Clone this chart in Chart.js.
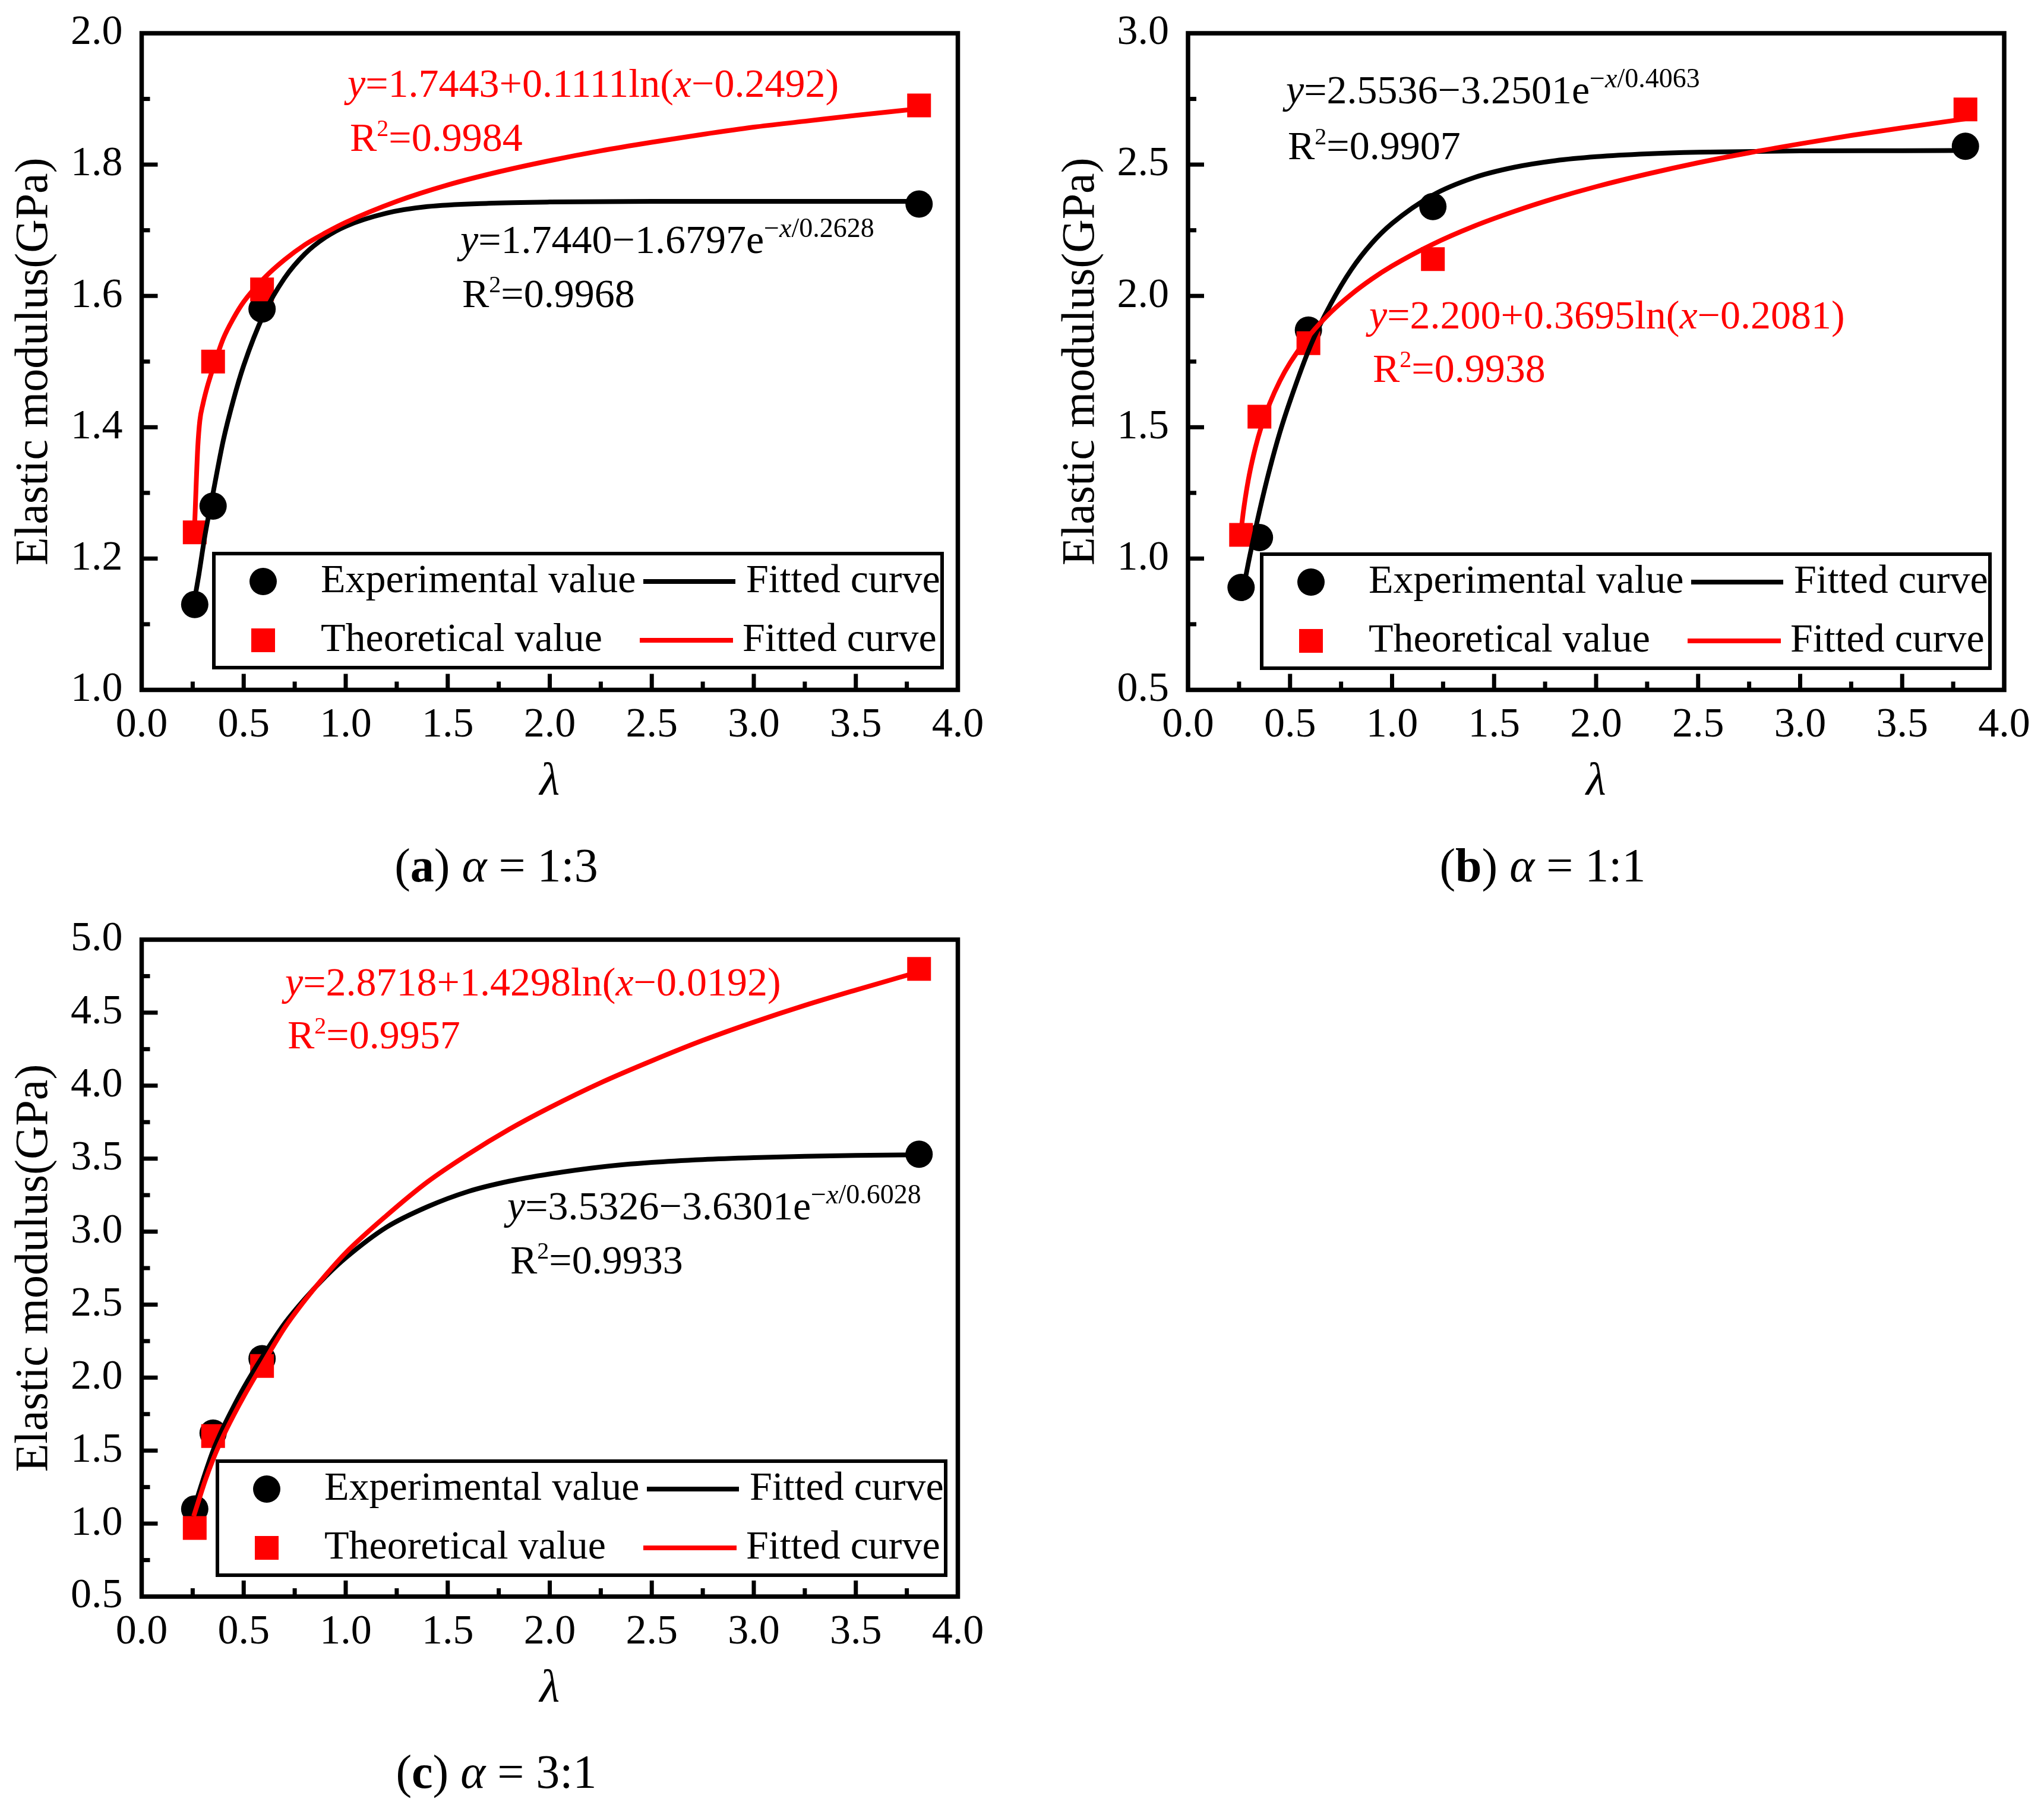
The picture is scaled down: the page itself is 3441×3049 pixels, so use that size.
<!DOCTYPE html>
<html>
<head>
<meta charset="utf-8">
<title>Elastic modulus vs lambda</title>
<script src="https://cdn.jsdelivr.net/npm/chart.js@4.4.1/dist/chart.umd.min.js"></script>
<style>
  html, body { margin: 0; padding: 0; background: #fff; }
  body { width: 3441px; height: 3049px; position: relative; overflow: hidden; }
  canvas { position: absolute; }
</style>
</head>
<body>
<canvas id="chartA" width="1720" height="1560" style="left:0px;top:0px"></canvas>
<canvas id="chartB" width="1679" height="1560" style="left:1762px;top:0px"></canvas>
<canvas id="chartC" width="1720" height="1523" style="left:0px;top:1526px"></canvas>
<script>
// measured points (lambda on x)
const lambdaA = [0.26, 0.35, 0.59, 3.81];
const expA = [1.13, 1.28, 1.58, 1.74];
const theoA = [1.24, 1.50, 1.61, 1.89];

const lambdaB = [0.26, 0.35, 0.59, 1.20, 3.81];
const expB = [0.89, 1.08, 1.87, 2.34, 2.57];
const theoB = [1.09, 1.54, 1.82, 2.14, 2.71];

const lambdaC = [0.26, 0.35, 0.59, 3.81];
const expC = [1.10, 1.62, 2.13, 3.53];
const theoC = [0.97, 1.60, 2.08, 4.80];

// fitted curves
const fitExpAx = [0.255, 0.28, 0.31, 0.35, 0.40, 0.45, 0.50, 0.60, 0.70, 0.80, 0.90, 1.00, 1.20, 1.40, 1.70, 2.00, 2.50, 3.00, 3.81];
const fitExpAy = [1.13, 1.175, 1.235, 1.30, 1.38, 1.442, 1.494, 1.573, 1.627, 1.664, 1.689, 1.706, 1.726, 1.736, 1.741, 1.743, 1.744, 1.744, 1.744];
const fitTheoAx = [0.258, 0.262, 0.268, 0.275, 0.285, 0.30, 0.32, 0.35, 0.40, 0.45, 0.50, 0.60, 0.70, 0.80, 0.90, 1.00, 1.25, 1.50, 1.75, 2.00, 2.25, 2.50, 2.75, 3.00, 3.25, 3.50, 3.81];
const fitTheoAy = [1.24, 1.27, 1.32, 1.37, 1.41, 1.435, 1.46, 1.49, 1.535, 1.566, 1.591, 1.627, 1.655, 1.678, 1.696, 1.712, 1.744, 1.769, 1.789, 1.806, 1.821, 1.834, 1.846, 1.857, 1.866, 1.875, 1.885];

const fitExpBx = [0.26, 0.28, 0.30, 0.35, 0.40, 0.45, 0.50, 0.60, 0.70, 0.80, 0.90, 1.00, 1.20, 1.40, 1.60, 1.80, 2.00, 2.25, 2.50, 3.00, 3.50, 3.81];
const fitExpBy = [0.84, 0.92, 1.00, 1.18, 1.34, 1.48, 1.60, 1.81, 1.97, 2.10, 2.20, 2.276, 2.384, 2.450, 2.490, 2.515, 2.530, 2.541, 2.547, 2.552, 2.553, 2.554];
const fitTheoBx = [0.26, 0.27, 0.28, 0.30, 0.33, 0.36, 0.40, 0.45, 0.50, 0.60, 0.70, 0.80, 0.90, 1.00, 1.20, 1.40, 1.60, 1.80, 2.00, 2.25, 2.50, 2.75, 3.00, 3.25, 3.50, 3.81];
const fitTheoBy = [1.107, 1.172, 1.227, 1.318, 1.422, 1.504, 1.590, 1.676, 1.745, 1.854, 1.938, 2.006, 2.064, 2.114, 2.197, 2.265, 2.322, 2.372, 2.416, 2.464, 2.507, 2.545, 2.579, 2.611, 2.640, 2.674];

const fitExpCx = [0.255, 0.28, 0.31, 0.35, 0.40, 0.45, 0.50, 0.60, 0.70, 0.80, 0.90, 1.00, 1.20, 1.40, 1.60, 1.80, 2.00, 2.25, 2.50, 2.75, 3.00, 3.25, 3.50, 3.81];
const fitExpCy = [1.10, 1.21, 1.34, 1.50, 1.66, 1.80, 1.93, 2.16, 2.37, 2.54, 2.69, 2.82, 3.03, 3.17, 3.275, 3.345, 3.395, 3.443, 3.474, 3.494, 3.507, 3.516, 3.522, 3.526];
const fitTheoCx = [0.255, 0.28, 0.31, 0.35, 0.40, 0.45, 0.50, 0.60, 0.70, 0.80, 0.90, 1.00, 1.20, 1.40, 1.60, 1.80, 2.00, 2.25, 2.50, 2.75, 3.00, 3.25, 3.50, 3.81];
const fitTheoCy = [1.05, 1.16, 1.29, 1.44, 1.60, 1.74, 1.87, 2.11, 2.34, 2.53, 2.70, 2.855, 3.11, 3.34, 3.53, 3.70, 3.85, 4.02, 4.17, 4.31, 4.435, 4.55, 4.655, 4.78];

const serif = '"Liberation Serif", "Times New Roman", serif';
const RED = '#ff0000';
const BLACK = '#000000';
const CURVE_W = 8;

Chart.defaults.font.family = serif;
Chart.defaults.color = BLACK;

const pts = (xs, ys) => xs.map((x, i) => ({ x, y: ys[i] }));

// text made of pieces: italic / bold / superscript
function richWidth(ctx, parts, size) {
  let w = 0;
  parts.forEach(p => {
    ctx.font = `${p.b ? 'bold ' : ''}${p.i ? 'italic ' : ''}${p.sup || size}px ${serif}`;
    w += ctx.measureText(p.t).width;
  });
  return w;
}

function drawRich(ctx, x, y, parts, size, color) {
  ctx.save();
  ctx.fillStyle = color;
  ctx.textAlign = 'left';
  ctx.textBaseline = 'alphabetic';
  let cx = x;
  parts.forEach(p => {
    ctx.font = `${p.b ? 'bold ' : ''}${p.i ? 'italic ' : ''}${p.sup || size}px ${serif}`;
    ctx.fillText(p.t, cx, y - (p.rise || 0));
    cx += ctx.measureText(p.t).width;
  });
  ctx.restore();
}

const lnEq = (a, b, c) => [{ t: 'y', i: true }, { t: `=${a}+${b}ln(` }, { t: 'x', i: true }, { t: `\u2212${c})` }];
const expEq = (a, b, c) => [{ t: 'y', i: true }, { t: `=${a}\u2212${b}e` },
  { t: '\u2212', sup: 46, rise: 27 }, { t: 'x', i: true, sup: 46, rise: 27 }, { t: `/${c}`, sup: 46, rise: 27 }];
const r2 = v => [{ t: 'R' }, { t: '2', sup: 40, rise: 25 }, { t: `=${v}` }];
const caption = (letter, ratio) => [{ t: '(' }, { t: letter, b: true }, { t: ') ' }, { t: '\u03b1', i: true }, { t: ` = ${ratio}` }];

// frame with inward ticks, legend box, equations and caption
const decorPlugin = {
  id: 'decor',
  afterDatasetsDraw(chart, args, opts) {
    const { ctx, chartArea: a, scales: { x, y } } = chart;
    ctx.save();
    ctx.strokeStyle = BLACK;
    ctx.lineCap = 'butt';
    ctx.lineWidth = 7;
    const xn = Math.round((x.max - x.min) / 0.25);
    for (let i = 1; i < xn; i++) {
      const px = x.getPixelForValue(x.min + i * 0.25);
      ctx.beginPath();
      ctx.moveTo(px, a.bottom);
      ctx.lineTo(px, a.bottom - (i % 2 === 0 ? 27 : 14));
      ctx.stroke();
    }
    const ystep = opts.yMinor;
    const yn = Math.round((y.max - y.min) / ystep);
    for (let i = 1; i < yn; i++) {
      const py = y.getPixelForValue(y.min + i * ystep);
      ctx.beginPath();
      ctx.moveTo(a.left, py);
      ctx.lineTo(a.left + (i % 2 === 0 ? 27 : 14), py);
      ctx.stroke();
    }
    ctx.lineWidth = 7.5;
    ctx.strokeRect(a.left, a.top, a.right - a.left, a.bottom - a.top);

    // legend
    const lg = opts.legend;
    const bx = a.left + lg.dx, by = a.top + lg.dy;
    ctx.lineWidth = 6;
    ctx.strokeRect(bx, by, 1226, 192);
    const ds = chart.data.datasets;
    const rows = [
      { mark: ds[0], line: ds[2], y: by + 47, lx0: 723, lx1: 878, tx: 896 },
      { mark: ds[1], line: ds[3], y: by + 146, lx0: 717, lx1: 874, tx: 890 }
    ];
    rows.forEach(r => {
      ctx.fillStyle = r.mark.backgroundColor;
      Chart.helpers.drawPoint(ctx, { pointStyle: r.mark.pointStyle, radius: r.mark.pointRadius, rotation: 0, borderWidth: 0 }, bx + 83, r.y);
      ctx.fillStyle = BLACK;
      ctx.font = `68px ${serif}`;
      ctx.textBaseline = 'middle';
      ctx.textAlign = 'left';
      ctx.fillText(r.mark.label, bx + 180, r.y);
      ctx.fillText(r.line.label, bx + r.tx, r.y);
      ctx.strokeStyle = r.line.borderColor;
      ctx.lineWidth = CURVE_W;
      ctx.beginPath();
      ctx.moveTo(bx + r.lx0, r.y);
      ctx.lineTo(bx + r.lx1, r.y);
      ctx.stroke();
    });

    // equations
    opts.notes.forEach(n => drawRich(ctx, a.left + n.dx, a.top + n.dy, n.parts, 68, n.color));

    // caption under the panel
    const cw = richWidth(ctx, opts.caption, 80);
    const cx = (a.left + a.right) / 2 - 90 - cw / 2;
    drawRich(ctx, cx, a.bottom + 322, opts.caption, 80, BLACK);
    ctx.restore();
  }
};

function makeChart(id, p) {
  return new Chart(document.getElementById(id), {
    type: 'scatter',
    data: {
      datasets: [
        { label: 'Experimental value', data: pts(p.lambda, p.exp), pointStyle: 'circle', pointRadius: 23,
          backgroundColor: BLACK, borderWidth: 0, pointBorderWidth: 0, order: 4 },
        { label: 'Theoretical value', data: pts(p.lambda, p.theo), pointStyle: 'rect', pointRadius: 28.3,
          backgroundColor: RED, borderWidth: 0, pointBorderWidth: 0, order: 3 },
        { label: 'Fitted curve', data: pts(p.fitEx, p.fitEy), showLine: true, pointRadius: 0, borderColor: BLACK,
          backgroundColor: BLACK, borderWidth: CURVE_W, cubicInterpolationMode: 'monotone', order: 2 },
        { label: 'Fitted curve', data: pts(p.fitTx, p.fitTy), showLine: true, pointRadius: 0, borderColor: RED,
          backgroundColor: RED, borderWidth: CURVE_W, cubicInterpolationMode: 'monotone', order: 1 }
      ]
    },
    options: {
      responsive: false,
      devicePixelRatio: 1,
      animation: false,
      events: [],
      layout: { autoPadding: false, padding: p.pad },
      plugins: {
        legend: { display: false },
        tooltip: { enabled: false },
        decor: { yMinor: p.yStep / 2, legend: p.legend, notes: p.notes, caption: p.caption }
      },
      scales: {
        x: {
          type: 'linear', min: 0, max: 4,
          grid: { display: false, drawTicks: false },
          border: { display: false },
          ticks: { stepSize: 0.5, autoSkip: false, maxRotation: 0, padding: 18.5,
            font: { family: serif, size: 70, lineHeight: 1.2 }, color: BLACK, callback: v => Number(v).toFixed(1) },
          title: { display: true, text: '\u03bb', color: BLACK,
            font: { family: serif, size: 78, style: 'italic', lineHeight: 1.2 }, padding: { top: 0, bottom: 7 } },
          afterFit: s => { s.height = 210; s.paddingLeft = 0; s.paddingRight = 0; s.paddingTop = 0; s.paddingBottom = 0; }
        },
        y: {
          type: 'linear', min: p.yMin, max: p.yMax,
          grid: { display: false, drawTicks: false },
          border: { display: false },
          ticks: { stepSize: p.yStep, autoSkip: false, padding: 32,
            font: { family: serif, size: 70, lineHeight: 1.2 }, color: BLACK, callback: v => Number(v).toFixed(1) },
          title: { display: true, text: 'Elastic modulus(GPa)', color: BLACK,
            font: { family: serif, size: 78, lineHeight: 1.2 }, padding: { top: 12, bottom: 0 } },
          afterFit: s => { s.width = p.yWidth; s.paddingLeft = 0; s.paddingRight = 0; s.paddingTop = 0; s.paddingBottom = 0; }
        }
      }
    },
    plugins: [decorPlugin]
  });
}

makeChart('chartA', {
  lambda: lambdaA, exp: expA, theo: theoA,
  fitEx: fitExpAx, fitEy: fitExpAy, fitTx: fitTheoAx, fitTy: fitTheoAy,
  yMin: 1.0, yMax: 2.0, yStep: 0.2, yWidth: 238.5,
  pad: { left: 0, top: 56, right: 107.5, bottom: 188.5 },
  legend: { dx: 121.5, dy: 876 },
  notes: [
    { dx: 346.5, dy: 107, color: RED, parts: lnEq('1.7443', '0.1111', '0.2492') },
    { dx: 350.5, dy: 198, color: RED, parts: r2('0.9984') },
    { dx: 536.5, dy: 370, color: BLACK, parts: expEq('1.7440', '1.6797', '0.2628') },
    { dx: 539.5, dy: 461, color: BLACK, parts: r2('0.9968') }
  ],
  caption: caption('a', '1:3')
});

makeChart('chartB', {
  lambda: lambdaB, exp: expB, theo: theoB,
  fitEx: fitExpBx, fitEy: fitExpBy, fitTx: fitTheoBx, fitTy: fitTheoBy,
  yMin: 0.5, yMax: 3.0, yStep: 0.5, yWidth: 238,
  pad: { left: 0, top: 56, right: 67, bottom: 188.5 },
  legend: { dx: 124, dy: 877 },
  notes: [
    { dx: 165, dy: 118, color: BLACK, parts: expEq('2.5536', '3.2501', '0.4063') },
    { dx: 168, dy: 212, color: BLACK, parts: r2('0.9907') },
    { dx: 305, dy: 497, color: RED, parts: lnEq('2.200', '0.3695', '0.2081') },
    { dx: 311, dy: 587, color: RED, parts: r2('0.9938') }
  ],
  caption: caption('b', '1:1')
});

makeChart('chartC', {
  lambda: lambdaC, exp: expC, theo: theoC,
  fitEx: fitExpCx, fitEy: fitExpCy, fitTx: fitTheoCx, fitTy: fitTheoCy,
  yMin: 0.5, yMax: 5.0, yStep: 0.5, yWidth: 238.5,
  pad: { left: 0, top: 56, right: 107.5, bottom: 151 },
  legend: { dx: 127.5, dy: 878 },
  notes: [
    { dx: 241.5, dy: 94, color: RED, parts: lnEq('2.8718', '1.4298', '0.0192') },
    { dx: 245.5, dy: 183, color: RED, parts: r2('0.9957') },
    { dx: 615.5, dy: 471, color: BLACK, parts: expEq('3.5326', '3.6301', '0.6028') },
    { dx: 620.5, dy: 562, color: BLACK, parts: r2('0.9933') }
  ],
  caption: caption('c', '3:1')
});
</script>
</body>
</html>
